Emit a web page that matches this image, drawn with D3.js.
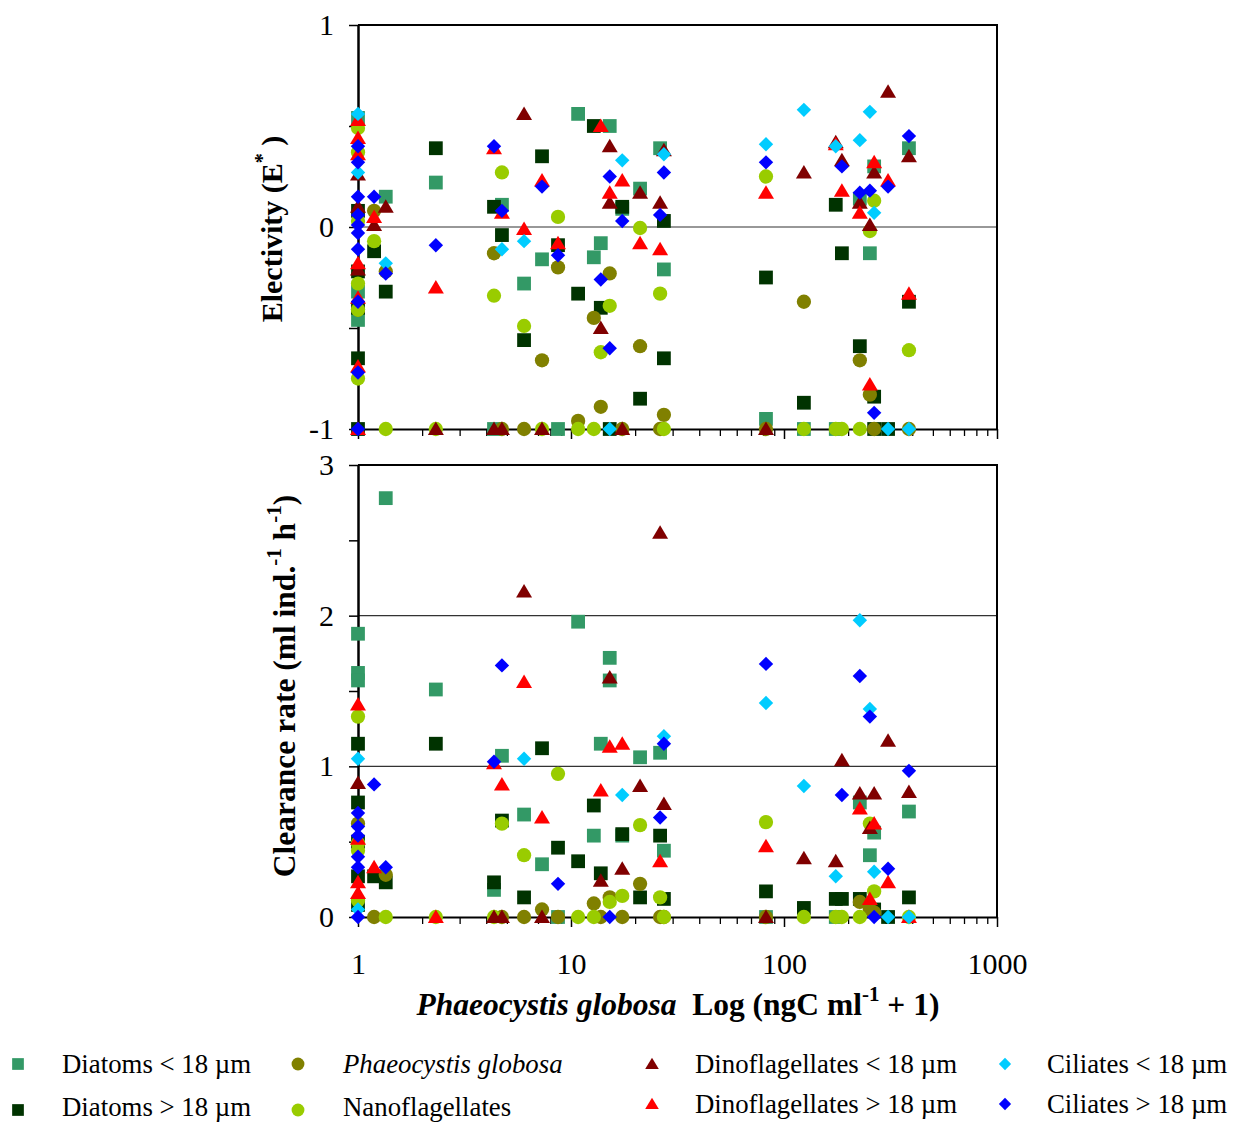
<!DOCTYPE html>
<html>
<head>
<meta charset="utf-8">
<script src="https://cdn.jsdelivr.net/npm/d3@7"></script>
<style>
  body { margin: 0; background: #fff; }
  svg { display: block; }
  text { font-family: "Liberation Serif", "Times New Roman", serif; fill: #000; }
</style>
</head>
<body>
<svg id="chart" width="1239" height="1124"></svg>
<script>
// ---- Data: [Phaeocystis globosa log(ngC ml-1 + 1), value] ----
// Electivity (E*)
const diatomsSmallE = [[1,0.54],[1,-0.32],[1,-0.46],[1.35,0.15],[2.32,0.22],[4.35,-1],[4.74,0.11],[6.02,-0.28],[7.31,-0.16],[8.69,-1],[10.8,0.56],[12.8,-0.15],[13.8,-0.08],[15.2,0.50],[17.4,0.09],[21.1,0.19],[26.2,0.39],[27.3,-0.21],[82.3,-0.95],[124,-1],[175,-1],[227,0.14],[265,0.30],[253,-0.13],[386,0.39]];
const diatomsLargeE = [[1,0.08],[1,-0.22],[1,-0.40],[1,-0.65],[1,-1],[1.19,-0.12],[1.35,-0.32],[2.32,0.39],[4.35,0.10],[4.74,-0.04],[6.02,-0.56],[7.31,0.35],[8.69,-0.09],[10.8,-0.33],[12.8,0.50],[13.8,-0.40],[15.2,-1],[17.4,0.10],[21.1,-0.85],[27.3,0.03],[27.3,-0.65],[82.3,-0.25],[124,-0.87],[175,0.11],[187,-0.13],[227,-0.59],[265,-0.84],[265,-1],[308,-1],[386,-0.37]];
const phaeoE = [[1,-0.41],[1.19,0.08],[1.35,-0.22],[4.35,-0.13],[4.74,-1],[6.02,-1],[7.31,-0.66],[8.69,-0.20],[10.8,-0.96],[12.8,-0.45],[13.8,-0.89],[15.2,-0.23],[17.4,-1],[21.1,-0.59],[26.2,-1],[27.3,-0.93],[82.3,-1],[124,-0.37],[227,-0.66],[253,-0.83],[265,-1],[386,-1]];
const nanoE = [[1,0.49],[1,0.37],[1,0.03],[1,-0.28],[1,-0.41],[1,-0.75],[1.19,-0.07],[1.35,-1],[2.32,-1],[4.35,-0.34],[4.74,0.27],[6.02,-0.49],[7.31,-1],[8.69,0.05],[10.8,-1],[12.8,-1],[13.8,-0.62],[15.2,-0.39],[21.1,-0.005],[26.2,-0.33],[27.3,-1],[82.3,0.25],[124,-1],[175,-1],[187,-1],[227,-1],[253,-0.02],[265,0.13],[386,-0.61]];
const dinoSmallE = [[1,0.26],[1,0.10],[1,-0.21],[1.19,0.01],[1.35,0.10],[2.32,-1],[4.35,-1],[4.74,-1],[6.02,0.56],[7.31,-1],[13.8,-0.50],[15.2,0.40],[15.2,0.12],[17.4,-1],[21.1,0.17],[26.2,0.12],[27.3,0.38],[82.3,-1],[124,0.27],[175,0.42],[187,0.33],[227,0.12],[253,0.01],[265,0.27],[308,0.67],[386,0.35]];
const dinoLargeE = [[1,0.53],[1,0.44],[1,0.36],[1,-0.18],[1,-0.35],[1,-0.69],[1,-1],[1.19,0.05],[2.32,-0.30],[4.35,0.39],[4.74,0.07],[6.02,-0.01],[7.31,0.23],[8.69,-0.08],[13.8,0.50],[15.2,0.17],[17.4,0.23],[21.1,-0.08],[26.2,-0.11],[82.3,0.17],[175,0.41],[187,0.18],[227,0.07],[253,-0.78],[265,0.32],[308,0.23],[386,-0.33]];
const ciliatesSmallE = [[1,0.56],[1,0.27],[1.35,-0.18],[4.74,-0.11],[6.02,-0.07],[15.2,-1],[17.4,0.33],[27.3,0.36],[82.3,0.41],[124,0.58],[175,0.40],[227,0.43],[253,0.57],[265,0.07],[308,-1],[386,-1]];
const ciliatesLargeE = [[1,0.40],[1,0.32],[1,0.15],[1,0.06],[1,0.01],[1,-0.03],[1,-0.11],[1,-0.37],[1,-0.72],[1,-1],[1.19,0.15],[1.35,-0.23],[2.32,-0.09],[4.35,0.40],[4.74,0.08],[7.31,0.20],[8.69,-0.14],[13.8,-0.26],[15.2,0.25],[15.2,-0.60],[17.4,0.03],[26.2,0.06],[27.3,0.27],[82.3,0.32],[187,0.30],[227,0.17],[253,0.18],[265,-0.92],[308,0.20],[386,0.45]];

// Clearance rate (ml ind.-1 h-1)
const diatomsSmallCR = [[1,1.88],[1,1.62],[1,1.57],[1.35,2.78],[2.32,1.51],[4.35,0.18],[4.74,1.07],[6.02,0.68],[7.31,0.35],[8.69,0],[10.8,1.96],[12.8,0.54],[13.8,1.15],[15.2,1.72],[15.2,1.57],[17.4,0.54],[21.1,1.06],[26.2,1.09],[27.3,0.44],[82.3,0],[175,0],[227,0.76],[253,0.41],[265,0.56],[386,0.70]];
const diatomsLargeCR = [[1,1.15],[1,0.76],[1,0.50],[1,0.27],[1,0.08],[1.19,0.27],[1.35,0.23],[2.32,1.15],[4.35,0.23],[4.74,0.64],[6.02,0.13],[7.31,1.12],[8.69,0.46],[10.8,0.37],[12.8,0.74],[13.8,0.29],[17.4,0.55],[21.1,0.13],[26.2,0.54],[27.3,0.12],[82.3,0.17],[124,0.06],[175,0.12],[187,0.12],[227,0.12],[265,0.05],[308,0],[386,0.13]];
const phaeoCR = [[1,0.62],[1.19,0],[1.35,0.28],[4.74,0],[6.02,0],[7.31,0.05],[8.69,0],[12.8,0.09],[13.8,0],[15.2,0.13],[17.4,0],[21.1,0.22],[26.2,0],[27.3,0],[82.3,0],[227,0.10],[253,0.05],[265,0.03]];
const nanoCR = [[1,1.33],[1,0.49],[1,0.44],[1,0.11],[1.35,0],[2.32,0],[4.35,0],[4.74,0.62],[6.02,0.41],[8.69,0.95],[10.8,0],[12.8,0],[15.2,0.10],[17.4,0.14],[21.1,0.61],[26.2,0.13],[27.3,0],[82.3,0.63],[124,0],[175,0],[187,0],[227,0],[253,0.62],[265,0.17],[386,0]];
const dinoSmallCR = [[1,0.89],[4.35,0],[4.74,0],[6.02,2.16],[7.31,0],[13.8,0.24],[15.2,1.59],[17.4,0.32],[21.1,0.87],[26.2,2.55],[27.3,0.75],[82.3,0],[124,0.39],[175,0.37],[187,1.04],[227,0.82],[253,0.59],[265,0.82],[308,1.17],[386,0.83]];
const dinoLargeCR = [[1,1.41],[1,0.52],[1,0.23],[1,0.16],[1.19,0.33],[2.32,0],[4.35,1.02],[4.74,0.88],[6.02,1.56],[7.31,0.66],[13.8,0.84],[15.2,1.13],[17.4,1.15],[26.2,0.37],[82.3,0.47],[227,0.72],[253,0.12],[265,0.62],[308,0.23],[386,0]];
const ciliatesSmallCR = [[1,1.05],[1,0.05],[6.02,1.05],[17.4,0.81],[27.3,1.20],[82.3,1.42],[124,0.87],[175,0.27],[227,1.97],[253,1.38],[265,0.30],[308,0],[386,0]];
const ciliatesLargeCR = [[1,0.69],[1,0.60],[1,0.54],[1,0.40],[1,0.33],[1,0],[1.19,0.88],[1.35,0.33],[4.35,1.03],[4.74,1.67],[8.69,0.22],[15.2,0],[26.2,0.66],[27.3,1.15],[82.3,1.68],[187,0.81],[227,1.60],[253,1.33],[265,0],[308,0.32],[386,0.97]];

const seriesNames = ["Diatoms < 18 µm", "Diatoms > 18 µm", "Phaeocystis globosa", "Nanoflagellates",
                     "Dinoflagellates < 18 µm", "Dinoflagellates > 18 µm", "Ciliates < 18 µm", "Ciliates > 18 µm"];
const electivitySeries = [diatomsSmallE, diatomsLargeE, phaeoE, nanoE, dinoSmallE, dinoLargeE, ciliatesSmallE, ciliatesLargeE];
const clearanceSeries = [diatomsSmallCR, diatomsLargeCR, phaeoCR, nanoCR, dinoSmallCR, dinoLargeCR, ciliatesSmallCR, ciliatesLargeCR];

const xMajorTicks = [1, 10, 100, 1000];
const eTicks = [-1, -0.5, 0, 0.5, 1];
const eLabels = [-1, 0, 1];
const crTicks = [0, 0.5, 1, 1.5, 2, 2.5, 3];
const crLabels = [0, 1, 2, 3];

// ---- Styles ----
const styles = [
  { color: "#339966", shape: "square" },
  { color: "#003300", shape: "square" },
  { color: "#808000", shape: "circle" },
  { color: "#99CC00", shape: "circle" },
  { color: "#800000", shape: "triangle" },
  { color: "#FF0000", shape: "triangle" },
  { color: "#00CCFF", shape: "diamond" },
  { color: "#0000FF", shape: "diamond" }
];

const svg = d3.select("#chart");
const left = 358, right = 997;
const x = d3.scaleLog().domain([1, 1000]).range([left, right]);
const yE = d3.scaleLinear().domain([-1, 1]).range([429, 25]);
const yC = d3.scaleLinear().domain([0, 3]).range([917, 465]);

const minorTicks = [];
for (let p = 1; p < 1000; p *= 10) for (let k = 2; k <= 9; k++) minorTicks.push(k * p);

function markerPath(shape) {
  if (shape === "square") return d3.symbol(d3.symbolSquare, 190)();
  if (shape === "circle") return d3.symbol(d3.symbolCircle, 160)();
  if (shape === "triangle") return "M0,-7.5L8,6L-8,6Z";
  return d3.symbol(d3.symbolSquare, 104)(); // rotated into a diamond
}
function markerTransform(shape, px, py) {
  return shape === "diamond" ? `translate(${px},${py}) rotate(45)` : `translate(${px},${py})`;
}

function drawPanel(yScale, top, bottom, gridValues, yTicks, yLabels, seriesList, showXLabels) {
  const g = svg.append("g");
  // gridlines
  g.selectAll("line.grid").data(gridValues).enter().append("line")
    .attr("x1", left).attr("x2", right)
    .attr("y1", d => yScale(d)).attr("y2", d => yScale(d))
    .attr("stroke", "#333").attr("stroke-width", 1.2);
  // top and right frame
  g.append("line").attr("x1", left).attr("x2", right + 1).attr("y1", top).attr("y2", top)
    .attr("stroke", "#000").attr("stroke-width", 2);
  g.append("line").attr("x1", right).attr("x2", right).attr("y1", top).attr("y2", bottom)
    .attr("stroke", "#000").attr("stroke-width", 2);

  // x axis: minor ticks then major ticks
  const xMinor = d3.axisBottom(x).tickValues(minorTicks).tickSize(7).tickFormat("");
  g.append("g").attr("transform", `translate(0,${bottom})`).call(xMinor)
    .call(a => a.select(".domain").remove())
    .selectAll("line").attr("stroke", "#000").attr("stroke-width", 1.3);
  const xMajor = d3.axisBottom(x).tickValues(xMajorTicks).tickSize(10).tickSizeOuter(0)
    .tickPadding(26).tickFormat(showXLabels ? d3.format("d") : "");
  const xa = g.append("g").attr("transform", `translate(0,${bottom})`).call(xMajor);
  xa.select(".domain").attr("stroke", "#000").attr("stroke-width", 2);
  xa.selectAll("line").attr("stroke", "#000").attr("stroke-width", 1.5);
  xa.selectAll("text").attr("font-size", 30).attr("font-family", "Liberation Serif");

  // y axis
  const yAxis = d3.axisLeft(yScale).tickValues(yTicks).tickSize(9).tickSizeOuter(0).tickPadding(15)
    .tickFormat(d => yLabels.includes(d) ? d3.format("d")(d) : "");
  const ya = g.append("g").attr("transform", `translate(${left},0)`).call(yAxis);
  ya.select(".domain").attr("stroke", "#000").attr("stroke-width", 2.5);
  ya.selectAll("line").attr("stroke", "#000").attr("stroke-width", 1.5);
  ya.selectAll("text").attr("font-size", 30).attr("font-family", "Liberation Serif")
    .text(d => yLabels.includes(d) ? (d < 0 ? "-" + Math.abs(d) : String(d)) : "");

  // markers
  seriesList.forEach((data, i) => {
    const st = styles[i];
    g.append("g").selectAll("path").data(data).enter().append("path")
      .attr("d", markerPath(st.shape))
      .attr("transform", d => markerTransform(st.shape, x(d[0]), yScale(d[1])))
      .attr("fill", st.color);
  });
}

drawPanel(yE, 25, 429, [0], eTicks, eLabels, electivitySeries, false);
drawPanel(yC, 465, 917, [1, 2], crTicks, crLabels, clearanceSeries, true);

// ---- Axis titles ----
const t1 = svg.append("text").attr("transform", "translate(282,229) rotate(-90)")
  .attr("text-anchor", "middle").attr("font-size", 30).attr("font-weight", "bold");
t1.append("tspan").text("Electivity (E");
t1.append("tspan").attr("dy", -13).attr("font-size", 20).text("*");
t1.append("tspan").attr("dy", 13).text(" )");

const t2 = svg.append("text").attr("transform", "translate(295,686) rotate(-90)")
  .attr("text-anchor", "middle").attr("font-size", 31.5).attr("font-weight", "bold");
t2.append("tspan").text("Clearance rate (ml ind.");
t2.append("tspan").attr("dy", -14).attr("font-size", 21).text("-1");
t2.append("tspan").attr("dy", 14).text(" h");
t2.append("tspan").attr("dy", -14).attr("font-size", 21).text("-1");
t2.append("tspan").attr("dy", 14).text(")");

const t3 = svg.append("text").attr("x", 678).attr("y", 1015)
  .attr("text-anchor", "middle").attr("font-size", 31.5).attr("font-weight", "bold");
t3.append("tspan").attr("font-style", "italic").text("Phaeocystis globosa");
t3.append("tspan").text("\u00a0 Log (ngC ml");
t3.append("tspan").attr("dy", -14).attr("font-size", 21).text("-1");
t3.append("tspan").attr("dy", 14).text(" + 1)");

// ---- Legend ----
const legendCols = [
  { mx: 18, tx: 62 }, { mx: 298, tx: 343 }, { mx: 652, tx: 695 }, { mx: 1005, tx: 1047 }
];
const legendRowsY = [[1064, 1107], [1064, 1107], [1064, 1104], [1064, 1104]];
seriesNames.forEach((name, i) => {
  const col = Math.floor(i / 2), row = i % 2;
  const c = legendCols[col];
  const cy = legendRowsY[col][row];
  const st = styles[i];
  const scale = st.shape === "circle" ? 0.9 : 0.85;
  svg.append("path").attr("d", markerPath(st.shape))
    .attr("transform", markerTransform(st.shape, c.mx, cy + (row === 1 && col < 2 ? 3 : 0)) + ` scale(${scale})`)
    .attr("fill", st.color);
  const t = svg.append("text").attr("x", c.tx).attr("y", cy + 9).attr("font-size", 26.8);
  if (i === 2) t.attr("font-style", "italic");
  t.text(name);
});
</script>
</body>
</html>
